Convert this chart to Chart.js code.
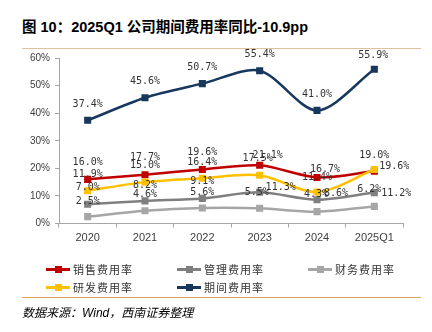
<!DOCTYPE html>
<html>
<head>
<meta charset="utf-8">
<script src="https://cdn.jsdelivr.net/npm/chart.js@4.4.1/dist/chart.umd.min.js"></script>
<style>
  body { margin: 0; width: 432px; height: 332px; background: #fff; position: relative; overflow: hidden; }
  #chart { position: absolute; left: 0; top: 0; }
  .title { position: absolute; left: 22px; top: 15px; font: bold 14.5px "Liberation Sans", "Noto Sans CJK SC", sans-serif; color: #000; white-space: nowrap; }
  .rule { position: absolute; left: 22px; width: 399px; height: 1px; }
  .source { position: absolute; left: 22px; top: 303px; font: italic 12px "Liberation Sans", "Noto Sans CJK SC", sans-serif; color: #000; white-space: nowrap; }
  #legend { position: absolute; left: 46px; top: 260px; display: grid; grid-template-columns: 131px 131px 131px; grid-auto-rows: 18px; }
  .item { display: flex; align-items: center; font: 11px "Noto Sans CJK SC", sans-serif; letter-spacing: 1px; color: #333; }
  .swatch { position: relative; width: 24px; height: 8px; margin-right: 3px; }
  .swatch .ln { position: absolute; left: 0; right: 0; top: 3px; height: 2.5px; }
  .swatch .mk { position: absolute; left: 9px; top: 0.5px; width: 7px; height: 7px; }
</style>
</head>
<body>
<div class="title">图 10：2025Q1 公司期间费用率同比-10.9pp</div>
<div class="rule" style="top:48px;background:#e2c29c"></div>
<canvas id="chart" width="432" height="332"></canvas>
<div id="legend"></div>
<div class="rule" style="top:297px;background:#d9a25f"></div>
<div class="source">数据来源：Wind，西南证券整理</div>
<script>
// categories and series (%)
const years = ['2020', '2021', '2022', '2023', '2024', '2025Q1'];
const salesRate   = [16.0, 17.7, 19.6, 21.1, 16.7, 19.0];
const adminRate   = [7.0, 8.2, 9.1, 11.3, 8.6, 11.2];
const financeRate = [2.5, 4.6, 5.6, 5.5, 4.3, 6.2];
const rdRate      = [11.9, 15.0, 16.4, 17.5, 11.4, 19.6];
const periodRate  = [37.4, 45.6, 50.7, 55.4, 41.0, 55.9];
const yTicks = [0, 10, 20, 30, 40, 50, 60];

// label nudges (dx, dy) per point, same order as the series
const labelOffsets = [
    [[0, -17], [0, -17], [0, -17], [8, -10], [8, -8], [0, -16]],
    [[0, -17], [0, -15], [0, -17], [21, -5], [19, -6], [22, 1]],
    [[0, -15], [0, -16], [0, -16], [-3, -16], [-1, -17], [-5, -17]],
    [[0, -16], [0, -17], [0, -16], [-2, -17], [0, -15], [20, -3]],
    [[0, -16], [0, -16], [0, -16], [0, -16], [0, -16], [-1, -14]]
];

const series = [
    { name: '销售费用率', data: salesRate, color: '#c00000' },
    { name: '管理费用率', data: adminRate, color: '#7f7f7f' },
    { name: '财务费用率', data: financeRate, color: '#a6a6a6' },
    { name: '研发费用率', data: rdRate, color: '#ffc000' },
    { name: '期间费用率', data: periodRate, color: '#17375e' }
];

const pointLabels = {
    id: 'pointLabels',
    afterDatasetsDraw(chart) {
        const ctx = chart.ctx;
        ctx.save();
        ctx.font = '10px "DejaVu Sans Mono", monospace';
        ctx.fillStyle = '#333';
        ctx.textAlign = 'center';
        ctx.textBaseline = 'middle';
        chart.data.datasets.forEach((ds, i) => {
            const meta = chart.getDatasetMeta(i);
            meta.data.forEach((pt, j) => {
                const off = labelOffsets[i][j];
                ctx.fillText(ds.data[j].toFixed(1) + '%', pt.x + off[0], pt.y + off[1]);
            });
        });
        ctx.restore();
    }
};

new Chart(document.getElementById('chart'), {
    type: 'line',
    data: {
        labels: years,
        datasets: series.map((s, i) => ({
            label: s.name,
            data: s.data,
            borderColor: s.color,
            backgroundColor: s.color,
            borderWidth: 2.5,
            pointStyle: 'rect',
            pointRadius: 5,
            pointBorderWidth: 0,
            tension: 0.3,
            order: series.length - i
        }))
    },
    options: {
        responsive: false,
        animation: false,
        layout: { padding: { left: 0, top: 58, right: 29, bottom: 83.5 } },
        plugins: { legend: { display: false }, tooltip: { enabled: false } },
        scales: {
            x: {
                offset: true,
                grid: { drawOnChartArea: false, offset: true, tickLength: 4, color: '#a6a6a6' },
                border: { color: '#a6a6a6' },
                ticks: { color: '#404040', font: { family: 'Liberation Sans', size: 11 }, padding: 4 },
                afterFit(scale) { scale.height = 25; }
            },
            y: {
                min: 0,
                max: 60,
                afterBuildTicks(scale) { scale.ticks = yTicks.map(v => ({ value: v })); },
                grid: { drawOnChartArea: false, tickLength: 4, color: '#a6a6a6' },
                border: { color: '#a6a6a6' },
                ticks: { color: '#404040', font: { family: 'Liberation Sans', size: 10 }, padding: 5, callback: v => v + '%' },
                afterFit(scale) { scale.width = 59; }
            }
        }
    },
    plugins: [pointLabels]
});

// legend built from the series
const legend = document.getElementById('legend');
series.forEach(s => {
    const item = document.createElement('div');
    item.className = 'item';
    item.innerHTML = '<span class="swatch"><span class="ln" style="background:' + s.color + '"></span>' +
        '<span class="mk" style="background:' + s.color + '"></span></span>' + s.name;
    legend.appendChild(item);
});
</script>
</body>
</html>
